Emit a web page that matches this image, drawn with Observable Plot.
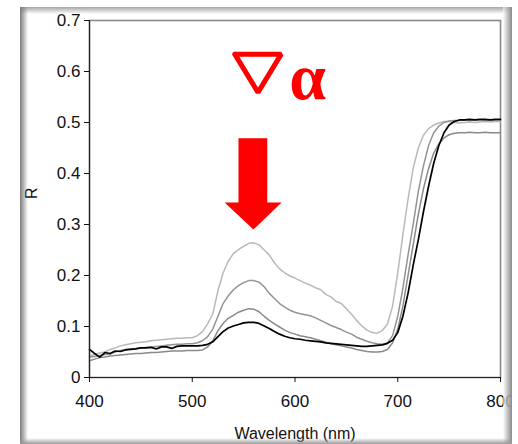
<!DOCTYPE html>
<html><head><meta charset="utf-8">
<script src="https://cdn.jsdelivr.net/npm/d3@7"></script>
<script src="https://cdn.jsdelivr.net/npm/@observablehq/plot@0.6"></script>
<style>
body{margin:0;background:#fff;}
#wrap{position:relative;width:518px;height:444px;overflow:hidden;background:#fff;}
#wrap svg{position:absolute;left:0;top:0;}
.edge{position:absolute;}
</style></head><body><div id="wrap"></div>
<script>
const wavelength = [400,405,410,415,420,425,430,435,440,445,450,455,460,465,470,475,480,485,490,495,
  500,505,510,515,520,525,530,535,540,545,550,555,560,565,570,575,580,585,590,595,
  600,605,610,615,620,625,630,635,640,645,650,655,660,665,670,675,680,685,690,695,
  700,705,710,715,720,725,730,735,740,745,750,755,760,765,770,775,780,785,790,795,800];

const reflLight = [0.042,0.045,0.048,0.050,0.055,0.058,0.062,0.064,0.066,0.068,0.069,0.070,0.072,0.073,0.074,0.075,0.076,0.077,0.077,0.078,
  0.078,0.082,0.090,0.105,0.125,0.170,0.205,0.228,0.243,0.251,0.257,0.263,0.264,0.260,0.250,0.240,0.225,0.213,0.205,0.199,
  0.195,0.190,0.185,0.181,0.176,0.172,0.163,0.158,0.149,0.145,0.135,0.124,0.112,0.101,0.093,0.088,0.087,0.092,0.105,0.140,
  0.205,0.280,0.350,0.410,0.450,0.475,0.488,0.495,0.499,0.502,0.502,0.500,0.499,0.500,0.501,0.500,0.501,0.502,0.501,0.502,0.502];

const reflMedium = [0.040,0.041,0.043,0.045,0.046,0.050,0.053,0.055,0.056,0.057,0.058,0.059,0.060,0.061,0.062,0.063,0.064,0.065,0.065,0.066,
  0.066,0.068,0.072,0.080,0.095,0.120,0.145,0.160,0.172,0.180,0.186,0.190,0.190,0.187,0.178,0.165,0.155,0.145,0.138,0.132,
  0.128,0.125,0.123,0.121,0.117,0.112,0.107,0.102,0.098,0.094,0.089,0.085,0.079,0.075,0.071,0.068,0.066,0.065,0.068,0.082,
  0.120,0.175,0.240,0.300,0.365,0.415,0.455,0.480,0.493,0.500,0.503,0.504,0.504,0.505,0.504,0.505,0.505,0.504,0.505,0.505,0.505];

const reflDark = [0.033,0.036,0.039,0.040,0.042,0.043,0.044,0.045,0.046,0.047,0.047,0.048,0.049,0.049,0.050,0.051,0.052,0.052,0.052,0.053,
  0.053,0.053,0.054,0.060,0.072,0.092,0.106,0.116,0.122,0.128,0.132,0.135,0.134,0.129,0.120,0.112,0.105,0.099,0.093,0.088,
  0.085,0.082,0.080,0.078,0.075,0.072,0.069,0.066,0.064,0.062,0.060,0.058,0.055,0.053,0.051,0.050,0.050,0.051,0.055,0.068,
  0.095,0.140,0.200,0.260,0.320,0.370,0.410,0.440,0.458,0.470,0.476,0.479,0.480,0.480,0.481,0.480,0.480,0.481,0.480,0.480,0.480];

const reflBlack = [0.055,0.047,0.040,0.049,0.047,0.052,0.051,0.054,0.055,0.056,0.058,0.058,0.059,0.056,0.060,0.060,0.057,0.061,0.062,0.062,
  0.062,0.062,0.063,0.065,0.070,0.080,0.090,0.097,0.101,0.104,0.107,0.108,0.108,0.106,0.101,0.096,0.090,0.085,0.081,0.078,
  0.076,0.075,0.073,0.072,0.071,0.070,0.068,0.067,0.066,0.065,0.064,0.063,0.062,0.061,0.061,0.062,0.063,0.064,0.067,0.073,
  0.088,0.120,0.165,0.220,0.270,0.325,0.375,0.420,0.455,0.480,0.495,0.502,0.505,0.505,0.506,0.505,0.506,0.506,0.505,0.506,0.506];

const xTicks = [400, 500, 600, 700, 800];
const yTicks = [0, 0.1, 0.2, 0.3, 0.4, 0.5, 0.6, 0.7];
const xLabel = "Wavelength (nm)";
const yLabel = "R";
const annotText = "α";
// annotation shapes in data units (wavelength, R)
const arrowShape = [[545,0.469],[573,0.469],[573,0.343],[587,0.343],[559.5,0.290],[531.5,0.343],[545,0.343]];
const nablaShape = [[541.4,0.634],[586.6,0.634],[564.0,0.559],[541.4,0.634]];
const alphaPos = [{w: 594.5, r: 0.547}];

const series = [
  {values: reflLight, color: "#b9b9b9", width: 1.5},
  {values: reflMedium, color: "#939393", width: 1.5},
  {values: reflDark, color: "#8a8a8a", width: 1.5},
  {values: reflBlack, color: "#000000", width: 1.7}
];
const tables = series.map(s => wavelength.map((w, i) => ({w, r: s.values[i]})));

const chart = Plot.plot({
  width: 518, height: 444,
  marginLeft: 89, marginRight: 18, marginTop: 20, marginBottom: 67,
  style: {fontFamily: "'Liberation Sans', Arial, sans-serif", fontSize: "17px", background: "transparent", color: "#111"},
  x: {domain: [400, 800]},
  y: {domain: [0, 0.7]},
  marks: [
    Plot.frame({stroke: "#8a8a8a", strokeWidth: 1.6}),
    ...series.map((s, i) => Plot.line(tables[i], {x: "w", y: "r", stroke: s.color, strokeWidth: s.width})),
    Plot.line(arrowShape, {x: d => d[0], y: d => d[1], fill: "#ff0000", stroke: "none"}),
    Plot.line(nablaShape, {x: d => d[0], y: d => d[1], stroke: "#ff0000", strokeWidth: 5, strokeLinejoin: "miter"}),
    Plot.text(alphaPos, {x: "w", y: "r", text: () => annotText, fill: "#ff0000", fontSize: 66, fontWeight: "bold", fontFamily: "'Liberation Serif', serif", textAnchor: "start", lineAnchor: "bottom"}),
    Plot.ruleX([400], {stroke: "#222", strokeWidth: 1.2}),
    Plot.ruleY([0], {stroke: "#222", strokeWidth: 1.2}),
    Plot.axisX({ticks: xTicks, tickSize: 5, tickPadding: 12, tickFormat: d => String(d), label: null, fontSize: 17}),
    Plot.axisY({ticks: yTicks, tickSize: 5, tickPadding: 4, tickFormat: d => d === 0 ? "0" : d.toFixed(1), label: null, fontSize: 17}),
    Plot.text([xLabel], {frameAnchor: "bottom", text: d => d, dy: 56, lineAnchor: "middle", fontSize: 16, fill: "#111"}),
    Plot.text([yLabel], {frameAnchor: "left", text: d => d, dx: -58, rotate: -90, lineAnchor: "middle", fontSize: 16, fill: "#111"})
  ]
});
const wrap = document.getElementById("wrap");
wrap.appendChild(chart);
function edge(css){const d=document.createElement("div");d.className="edge";d.style.cssText=css;wrap.appendChild(d);}
edge("left:20px;top:7px;width:492px;height:7px;background:linear-gradient(to bottom,#a6a6a6,rgba(255,255,255,0));");
edge("left:20px;top:7px;width:8px;height:437px;background:linear-gradient(to right,#7c7c7c,rgba(255,255,255,0));");
edge("left:503px;top:7px;width:9px;height:437px;background:linear-gradient(to right,rgba(255,255,255,0.6),#8a8a8a);");
edge("left:512px;top:0;width:6px;height:444px;background:#fff;");
edge("left:20px;top:438px;width:492px;height:6px;background:linear-gradient(to bottom,rgba(255,255,255,0),#9a9a9a);");
</script></body></html>
